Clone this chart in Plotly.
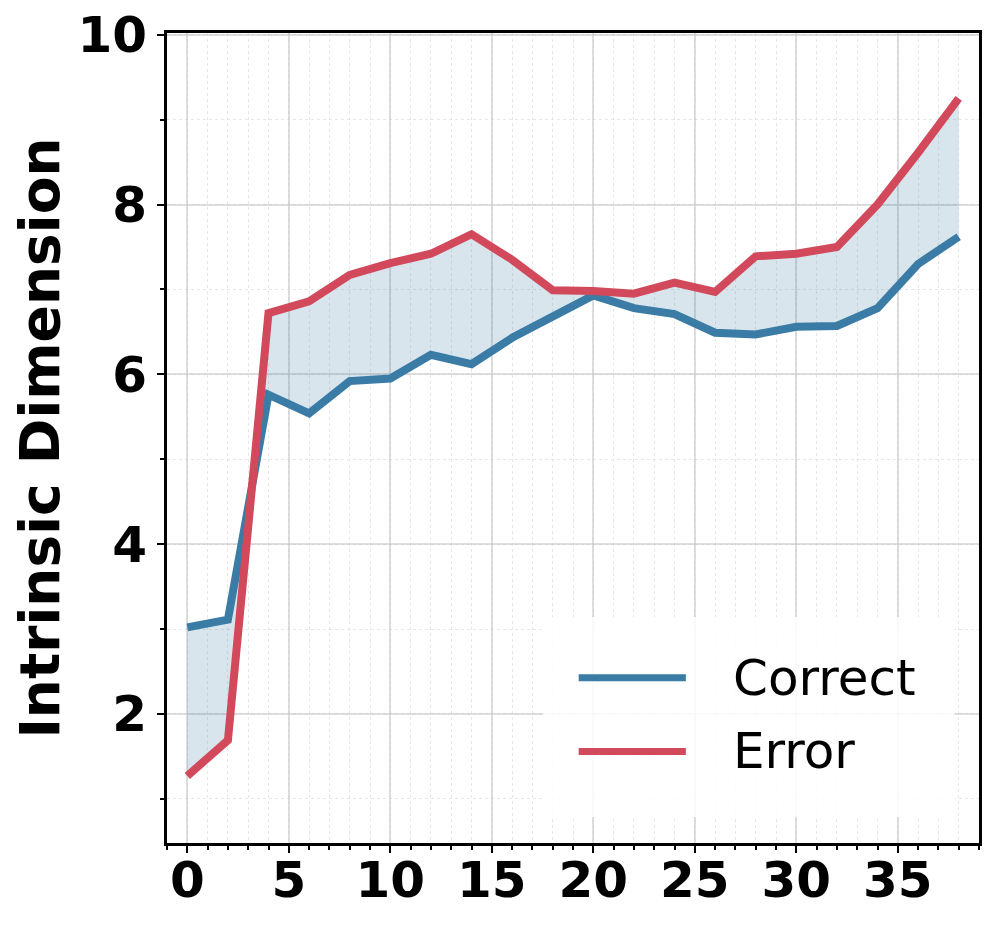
import plotly.graph_objects as go

steps = [0, 2, 4, 6, 8, 10, 12, 14, 16, 18, 20, 22, 24, 26, 28, 30, 32, 34, 36, 38]
correct = [3.02, 3.11, 5.76, 5.54, 5.92, 5.95, 6.23, 6.12, 6.43, 6.67, 6.93, 6.78, 6.71, 6.49,
           6.47, 6.56, 6.57, 6.78, 7.30, 7.62]
error = [1.27, 1.69, 6.72, 6.86, 7.17, 7.31, 7.42, 7.65, 7.35, 6.99, 6.98, 6.95, 7.08, 6.97,
         7.39, 7.42, 7.50, 8.00, 8.61, 9.25]
series_names = ["Correct", "Error"]
x_ticks = [0, 5, 10, 15, 20, 25, 30, 35]
y_ticks = [2, 4, 6, 8, 10]

BLUE = "#3A7CA5"
RED = "#D1495B"
FONT = "DejaVu Sans"

fig = go.Figure()
# fill between
fig.add_trace(go.Scatter(x=steps, y=correct, mode="lines", line=dict(width=0),
                         showlegend=False, hoverinfo="skip"))
fig.add_trace(go.Scatter(x=steps, y=error, mode="lines", line=dict(width=0),
                         fill="tonexty", fillcolor="rgba(58,124,165,0.2)",
                         showlegend=False, hoverinfo="skip"))
fig.add_trace(go.Scatter(x=steps, y=correct, mode="lines", name=series_names[0],
                         line=dict(color=BLUE, width=8), showlegend=False))
fig.add_trace(go.Scatter(x=steps, y=error, mode="lines", name=series_names[1],
                         line=dict(color=RED, width=8), showlegend=False))

axis_common = dict(
    showline=True, linecolor="black", linewidth=3, mirror=True, automargin=False,
    ticks="outside", ticklen=7, tickwidth=2, tickcolor="black",
    showgrid=True, gridcolor="rgba(200,200,200,0.6)", gridwidth=1.5,
    zeroline=False, ticklabeloverflow="allow",
    tickfont=dict(family=FONT, size=50, color="black", weight="bold"),
    minor=dict(ticks="outside", ticklen=4, tickwidth=1.5, tickcolor="black",
               showgrid=True, gridcolor="rgba(215,215,215,0.6)", gridwidth=1, griddash="dot"),
)

fig.update_xaxes(range=[-1, 39], tickvals=x_ticks, ticktext=[str(v) for v in x_ticks],
                 ticklabelstandoff=-16, **axis_common)
fig.update_xaxes(minor_dtick=1, minor_tick0=0)
fig.update_yaxes(range=[0.48, 10.02], tickvals=y_ticks, ticktext=[str(v) for v in y_ticks],
                 title=dict(text="Intrinsic Dimension", font=dict(family=FONT, size=55, color="black", weight="bold"),
                            standoff=18),
                 **axis_common)
fig.update_yaxes(minor_dtick=1, minor_tick0=1)

# legend (manual, matplotlib-style)
fig.add_shape(type="rect", xref="paper", yref="paper", x0=0.463, x1=0.970, y0=0.032, y1=0.279,
              fillcolor="rgba(255,255,255,0.85)", line=dict(width=0), layer="above")
legend_items = [(series_names[0], BLUE, 0.204), (series_names[1], RED, 0.113)]
for name, col, yp in legend_items:
    fig.add_shape(type="line", xref="paper", yref="paper", x0=0.507, x1=0.639, y0=yp, y1=yp,
                  line=dict(color=col, width=7), layer="above")
    fig.add_annotation(xref="paper", yref="paper", x=0.695, y=yp, text=name, showarrow=False,
                       xanchor="left", yanchor="middle",
                       font=dict(family=FONT, size=50, color="black"))

fig.update_layout(
    width=981, height=911,
    margin=dict(l=159, r=10, t=25, b=76),
    plot_bgcolor="white", paper_bgcolor="white",
    showlegend=False,
)

fig.write_html("out.html")
